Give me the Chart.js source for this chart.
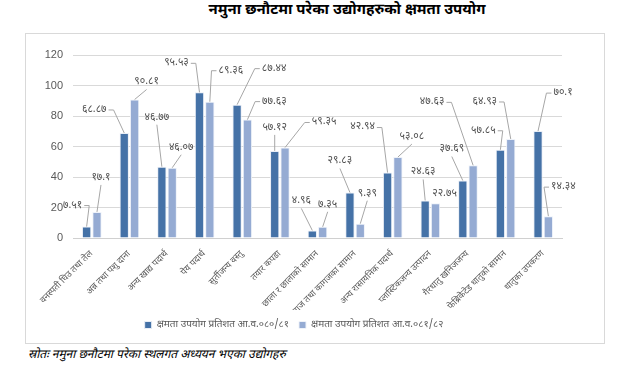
<!DOCTYPE html>
<html>
<head>
<meta charset="utf-8">
<script src="https://cdn.jsdelivr.net/npm/chart.js@4.4.1/dist/chart.umd.min.js"></script>
<style>
  body { margin: 0; background: #fff; width: 638px; height: 369px; position: relative; overflow: hidden;
         font-family: "Noto Sans Devanagari", "Lohit Devanagari", "Noto Sans", sans-serif; }
  #title { position: absolute; left: 0; width: 694px; top: 1px; text-align: center; font-size: 15px; font-weight: bold; color: #000; }
  #box { position: absolute; left: 25px; top: 33px; width: 578px; height: 309px; border: 1px solid #d9d9d9; }
  #foot { position: absolute; left: 28px; top: 347px; font-size: 12px; font-style: italic; color: #000; }
</style>
</head>
<body>
<div id="title">नमुना छनौटमा परेका उद्योगहरुको क्षमता उपयोग</div>
<div id="box"><canvas id="myChart" width="578" height="309"></canvas></div>
<div id="foot">स्रोतः नमुना छनौटमा परेका स्थलगत अध्ययन भएका उद्योगहरु</div>
<script>
//-----------------------------------
// chart data
//-----------------------------------
var categories = [
  "वनस्पती घिउ तथा तेल", "अन्न तथा पशु दाना", "अन्य खाद्य पदार्थ", "पेय पदार्थ",
  "सुर्तीजन्य वस्तु", "तयार कपडा", "छाला र छालाको सामान", "कागज तथा कागजका सामान",
  "अन्य रासायनिक पदार्थ", "प्लास्टिकजन्य उत्पादन", "गैरधातु खनिजजन्य",
  "फेब्रिकेटेड धातुको सामान", "धातुका उपकरण"
];
var seriesNames = ["क्षमता उपयोग प्रतिशत आ.व.०८०/८१", "क्षमता उपयोग प्रतिशत आ.व.०८१/८२"];
var values1 = [7.51, 68.87, 46.77, 95.53, 87.44, 57.12, 4.96, 29.83, 42.94, 24.63, 37.69, 57.85, 70.1];
var values2 = [17.1, 90.81, 46.07, 89.36, 77.63, 59.35, 7.35, 9.39, 53.08, 22.75, 47.63, 64.93, 14.34];
var yTicks = [0, 20, 40, 60, 80, 100, 120];

// where each value label sits, relative to the top of its bar (px)
var labelOffsets = [
  [[-14,-21],[-30,-23],[-5,-49],[-23,-29],[37,-36],[0,-23],[-11,-29],[-10,-31],[-25,-45],[-2,-28],[-11,-31],[-17,-19],[25,-38]],
  [[4,-34],[12,-17],[9,-20],[21,-31],[27,-18],[39,-25],[5,-22],[7,-30],[14,-20],[9,-9],[-41,-63],[-26,-37],[15,-29]]
];

var devDigits = "०१२३४५६७८९";
function toDev(v) {
  return String(v).replace(/\d/g, function (d) { return devDigits[d]; });
}

var labelFont = '10.5px "Noto Sans Devanagari", "Lohit Devanagari", "Noto Sans", sans-serif';

//draws the value labels with leader lines
var valueLabels = {
  id: "valueLabels",
  afterDatasetsDraw: function (chart) {
    var ctx = chart.ctx;
    ctx.save();
    ctx.font = labelFont;
    ctx.textAlign = "center";
    ctx.textBaseline = "middle";
    chart.data.datasets.forEach(function (ds, i) {
      var meta = chart.getDatasetMeta(i);
      meta.data.forEach(function (bar, j) {
        var off = labelOffsets[i][j];
        var lx = bar.x + off[0];
        var ly = bar.y + off[1];
        var txt = toDev(ds.data[j]);
        var w = ctx.measureText(txt).width;
        var dist = Math.sqrt(off[0] * off[0] + off[1] * off[1]);
        if (dist > 16) {
          var ax, ay, bx;
          ctx.strokeStyle = "#a6a6a6";
          ctx.lineWidth = 1;
          ctx.beginPath();
          if (bar.x < lx - w / 2 - 2) {
            ax = lx - w / 2 - 2; ay = ly; bx = ax - 5;
            ctx.moveTo(ax, ay); ctx.lineTo(bx, ay); ctx.lineTo(bar.x, bar.y);
          } else if (bar.x > lx + w / 2 + 2) {
            ax = lx + w / 2 + 2; ay = ly; bx = ax + 5;
            ctx.moveTo(ax, ay); ctx.lineTo(bx, ay); ctx.lineTo(bar.x, bar.y);
          } else {
            ctx.moveTo(lx, ly + 7); ctx.lineTo(bar.x, bar.y);
          }
          ctx.stroke();
        }
        ctx.fillStyle = "#505050";
        ctx.fillText(txt, lx, ly);
      });
    });
    ctx.restore();
  }
};

function displayGraph() {
  var grapharea = document.getElementById("myChart");

  const data = {
    labels: categories,
    datasets: [{
      label: seriesNames[0],
      backgroundColor: "#4572a7",
      borderColor: "#e9eef6",
      borderWidth: 1,
      data: values1
    }, {
      label: seriesNames[1],
      backgroundColor: "#95abd3",
      borderColor: "#eef2f9",
      borderWidth: 1,
      data: values2
    }]
  };

  const config = {
    type: "bar",
    data: data,
    plugins: [valueLabels],
    options: {
      responsive: false,
      animation: false,
      layout: { padding: { left: 0, right: 42, top: 21, bottom: 3 } },
      datasets: { bar: { categoryPercentage: 0.55, barPercentage: 0.9 } },
      scales: {
        x: {
          grid: { display: false },
          border: { color: "#d0d0d0" },
          ticks: {
            minRotation: 45, maxRotation: 45, autoSkip: false,
            color: "#595959",
            font: { size: 9, family: '"Noto Sans Devanagari", "Lohit Devanagari", "Noto Sans", sans-serif' }
          },
          afterFit: function (scale) { scale.height = 72; }
        },
        y: {
          min: 0, max: 120,
          afterBuildTicks: function (scale) {
            scale.ticks = yTicks.map(function (v) { return { value: v }; });
          },
          grid: { color: "#d9d9d9", drawTicks: false },
          border: { display: false },
          ticks: { color: "#595959", padding: 10, font: { size: 11, family: "Liberation Sans, Arial, sans-serif" } },
          afterFit: function (scale) { scale.width = 47; }
        }
      },
      plugins: {
        legend: {
          position: "bottom",
          labels: {
            boxWidth: 7, boxHeight: 7, padding: 10,
            color: "#595959",
            font: { size: 10, family: '"Noto Sans Devanagari", "Lohit Devanagari", "Noto Sans", sans-serif' }
          }
        },
        tooltip: { enabled: false }
      }
    }
  };

  const myChart = new Chart(grapharea, config);
}
displayGraph();
</script>
</body>
</html>
